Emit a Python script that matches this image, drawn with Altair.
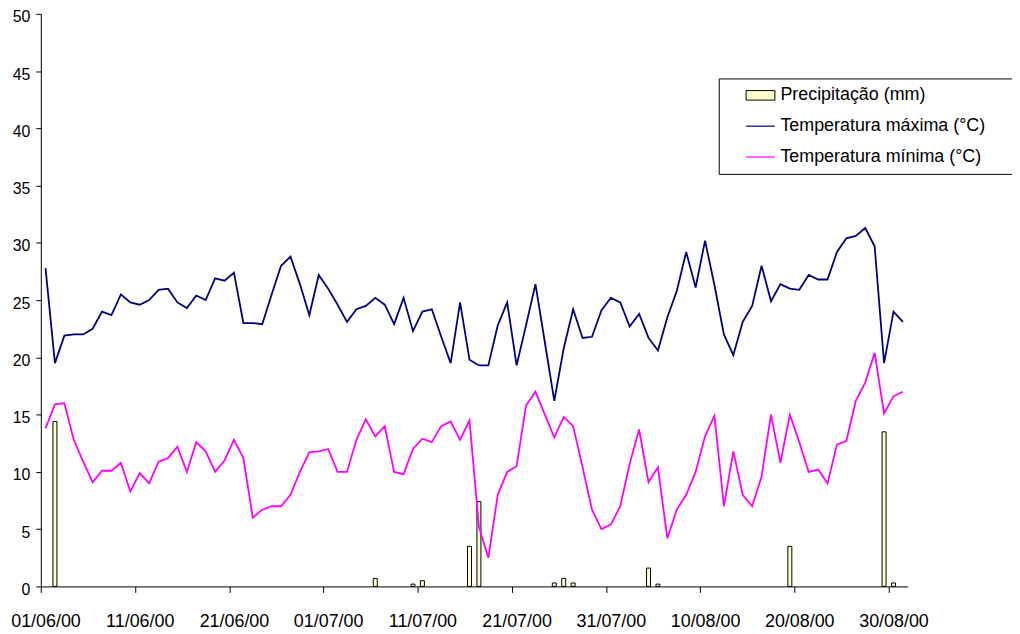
import json
import altair as alt
import pandas as pd

start_date = "2000-06-01"
n_days = 92

tmax = [27.8, 19.5, 21.9, 22.0, 22.0, 22.5, 24.0, 23.7, 25.5, 24.8,
        24.6, 25.0, 25.9, 26.0, 24.8, 24.3, 25.4, 25.0, 26.9, 26.7,
        27.4, 23.0, 23.0, 22.9, 25.5, 28.0, 28.8, 26.4, 23.7, 27.2,
        26.0, 24.6, 23.1, 24.2, 24.5, 25.2, 24.6, 22.9, 25.2, 22.3,
        24.0, 24.2, 21.8, 19.5, 24.8, 19.8, 19.3, 19.3, 22.8, 24.8,
        19.3, 22.8, 26.4, 21.3, 16.2, 20.8, 24.2, 21.7, 21.8, 24.1,
        25.2, 24.8, 22.7, 23.8, 21.7, 20.6, 23.5, 25.8, 29.2, 26.1,
        30.2, 26.3, 22.0, 20.2, 23.1, 24.5, 28.0, 24.9, 26.4, 26.0,
        25.9, 27.2, 26.8, 26.8, 29.2, 30.4, 30.6, 31.3, 29.7, 19.5,
        24.0, 23.1]

tmin = [13.8, 15.9, 16.0, 12.8, 10.9, 9.1, 10.1, 10.1, 10.8, 8.3,
        9.9, 9.0, 10.9, 11.2, 12.2, 10.0, 12.6, 11.8, 10.0, 11.0,
        12.8, 11.2, 6.0, 6.7, 7.0, 7.0, 8.0, 10.0, 11.7, 11.8,
        12.0, 10.0, 10.0, 12.8, 14.6, 13.1, 14.0, 10.0, 9.8, 12.0,
        12.9, 12.6, 14.0, 14.4, 12.8, 14.5, 5.2, 2.5, 8.0, 10.0,
        10.5, 15.8, 17.0, 15.0, 13.0, 14.8, 14.0, 10.4, 6.7, 5.0,
        5.4, 7.0, 10.7, 13.7, 9.1, 10.4, 4.2, 6.7, 8.0, 10.0,
        13.1, 14.9, 7.0, 11.8, 8.0, 7.0, 9.6, 15.0, 10.8, 15.0,
        12.6, 10.0, 10.2, 9.0, 12.4, 12.7, 16.2, 17.8, 20.4, 15.1,
        16.6, 17.0]

precip_days = [1, 35, 39, 40, 45, 46, 54, 55, 56, 64, 65, 79, 89, 90]
precip_vals = [14.4, 0.7, 0.2, 0.5, 3.5, 7.4, 0.3, 0.7, 0.3, 1.6, 0.2, 3.5, 13.5, 0.3]

tick_labels = ["01/06/00", "11/06/00", "21/06/00", "01/07/00", "11/07/00",
               "21/07/00", "31/07/00", "10/08/00", "20/08/00", "30/08/00"]
y_ticks = [0, 5, 10, 15, 20, 25, 30, 35, 40, 45, 50]

series_names = ["Precipitação (mm)", "Temperatura máxima (°C)", "Temperatura mínima (°C)"]
line_colors = ["black", "#000080", "#FF00FF"]
bar_fill = "#FFFFCC"

dates = pd.date_range(start_date, periods=n_days).strftime("%d/%m/%y").tolist()

temps = pd.DataFrame({
    "idx": list(range(n_days)) * 2,
    "date": dates * 2,
    "value": tmax + tmin,
    "series": [series_names[1]] * n_days + [series_names[2]] * n_days,
})
precip = pd.DataFrame({
    "idx": precip_days,
    "date": [dates[i] for i in precip_days],
    "value": precip_vals,
})

FONT = "Liberation Sans"
PLOT_W = 872

x_scale = alt.Scale(domain=[-0.5, n_days - 0.5], nice=False, zero=False, padding=0)
y_scale = alt.Scale(domain=[0, 50], nice=False, zero=True, padding=0)
color_scale = alt.Scale(domain=series_names, range=line_colors)

tick_vals = [i * 10 - 0.5 for i in range(len(tick_labels))]
x_axis = alt.Axis(values=tick_vals, labelOffset=PLOT_W / n_days / 2, labelAngle=0,
                  labelExpr=f"{json.dumps(tick_labels)}[round((datum.value + 0.5) / 10)]",
                  tickSize=6, labelPadding=20, labelFontSize=18, labelFont=FONT,
                  labelColor="black", domainColor="black", tickColor="black",
                  labelFlush=False, labelBound=False, labelOverlap=False,
                  grid=False, title=None)
y_axis = alt.Axis(values=y_ticks, tickSize=5, labelPadding=6, labelFontSize=16,
                  labelOffset=3, labelFont=FONT, labelColor="black",
                  domainColor="black", tickColor="black", grid=False, title=None,
                  labelFlush=False, labelOverlap=False)

is_p = f"datum.value === '{series_names[0]}'"

legend = alt.Legend(
    orient="none", legendX=682, legendY=65,
    title="\u00a0", titleOrient="right", titlePadding=20, titleFontSize=18,
    strokeColor="black", fillColor="white", padding=8,
    symbolOffset=25, labelOffset=11, rowPadding=13,
    symbolSize=841, labelFontSize=18, labelFont=FONT, labelColor="black",
    labelLimit=400,
    symbolType=alt.ExprRef(f"{is_p} ? 'M-1,-0.33H1V0.33H-1Z' : 'stroke'"),
    symbolFillColor=alt.ExprRef(f"{is_p} ? '{bar_fill}' : 'transparent'"),
    symbolStrokeWidth=alt.ExprRef(f"{is_p} ? 1 : 1.2"),
    symbolOpacity=1,
)

bars = alt.Chart(precip).mark_bar(size=4, fill=bar_fill, stroke="black", strokeWidth=1).encode(
    x=alt.X("idx:Q", scale=x_scale, axis=x_axis),
    y=alt.Y("value:Q", scale=y_scale, axis=y_axis),
)

lines = alt.Chart(temps).mark_line(strokeWidth=1.8).encode(
    x=alt.X("idx:Q", scale=x_scale, axis=x_axis),
    y=alt.Y("value:Q", scale=y_scale, axis=y_axis),
    color=alt.Color("series:N", scale=color_scale, legend=legend),
    order=alt.Order("idx:Q"),
)

chart = alt.layer(bars, lines).properties(
    width=PLOT_W, height=576,
    padding={"left": 33, "top": 4, "right": 105, "bottom": 45},
    autosize=alt.AutoSizeParams(type="none"),
    background="white",
).configure_view(stroke=None)

chart.save("out.html", embed_options={"renderer": "svg", "actions": False})
